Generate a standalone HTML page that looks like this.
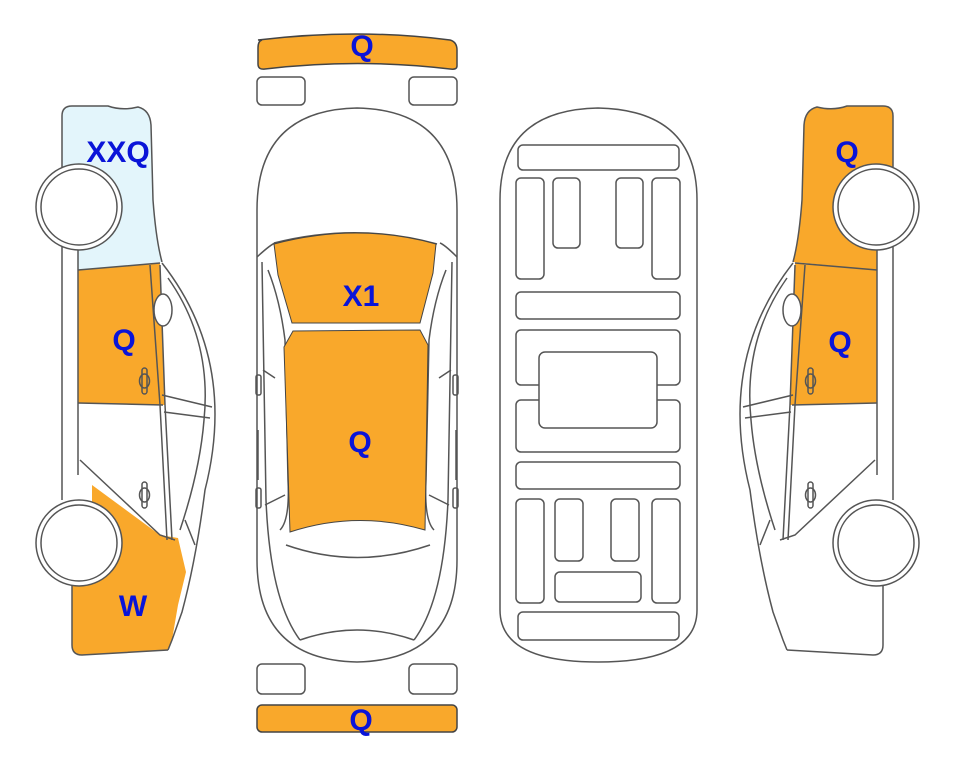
<!DOCTYPE html>
<html><head><meta charset="utf-8"><style>
html,body{margin:0;padding:0;background:#fff;}
svg{display:block;}
text{font-family:"Liberation Sans",Arial,sans-serif;font-weight:bold;fill:#0a14d8;font-size:30px;text-anchor:middle;}
</style></head><body>
<svg width="963" height="768" viewBox="0 0 963 768" xmlns="http://www.w3.org/2000/svg">
<defs>
<g id="outline" fill="none" stroke="#555" stroke-width="1.5">
  <path d="M62,116 Q62,106 72,106 L108,106 Q122,111 138,107 Q150,110 151,125 L153,200 Q156,240 162,262"/>
  <path d="M62,116 L62,500"/>
  <path d="M78,240 L78,475"/>
  <path d="M78,270 L160,263 M78,403 L163,405"/>
  <path d="M150,265 L160,405 L167,540"/>
  <path d="M160,265 L165,405 L172,540"/>
  <path d="M80,460 L160,535 L175,540"/>
  <path d="M162,263 Q238,360 205,490 Q196,560 182,612 L172,640 L168,650"/>
  <path d="M168,278 Q212,340 204,420 Q200,470 180,530"/>
  <path d="M162,395 L212,407 M164,412 L210,418"/>
  <path d="M185,520 L195,545"/>
  <path d="M72,585 L72,645 Q72,655 82,655 L168,650"/>
  <ellipse cx="163" cy="310" rx="9" ry="16" fill="#fff"/>
  <rect x="142" y="368" width="5" height="26" rx="2.5"/>
  <ellipse cx="144.5" cy="381" rx="5" ry="7"/>
  <rect x="142" y="482" width="5" height="26" rx="2.5"/>
  <ellipse cx="144.5" cy="495" rx="5" ry="7"/>
</g>
<g id="wheels" fill="#fff" stroke="#555" stroke-width="1.5">
  <circle cx="79" cy="207" r="43"/>
  <circle cx="79" cy="207" r="38"/>
  <circle cx="79" cy="543" r="43"/>
  <circle cx="79" cy="543" r="38"/>
</g>
</defs>

<!-- LEFT CAR -->
<path d="M62,116 Q62,106 72,106 L108,106 Q122,111 138,107 Q150,110 151,125 L153,200 Q156,240 162,262 L78,270 L78,240 L62,240 Z" fill="#e3f5fb"/>
<path d="M78,270 L160,263 L165,405 L78,403 Z" fill="#f9a82b"/>
<path d="M92,485 L160,535 L178,538 L186,572 L178,605 L172,640 L168,650 L82,655 Q72,655 72,645 L72,570 L92,560 Z" fill="#f9a82b"/>
<use href="#outline"/>
<use href="#wheels"/>
<text x="118" y="162">XXQ</text>
<text x="124" y="350">Q</text>
<text x="133" y="616">W</text>

<!-- RIGHT CAR (mirrored) -->
<g transform="translate(955,0) scale(-1,1)">
<path d="M62,116 Q62,106 72,106 L108,106 Q122,111 138,107 Q150,110 151,125 L153,200 Q156,240 162,262 L78,270 L78,240 L62,240 Z" fill="#f9a82b"/>
<path d="M78,270 L160,263 L165,405 L78,403 Z" fill="#f9a82b"/>
<use href="#outline"/>
<use href="#wheels"/>
</g>
<text x="847" y="162">Q</text>
<text x="840" y="352">Q</text>

<!-- TOP VIEW CAR -->
<g stroke="#555" stroke-width="1.5" fill="none">
  <path d="M258,40 Q358,28 450,40 Q457,42 457,50 L457,66 Q457,70 450,69 Q358,58 265,69 Q258,70 258,64 L258,48 Q258,41 262,40 Z" fill="#f9a82b" stroke="#444"/>
  <rect x="257" y="77" width="48" height="28" rx="5"/>
  <rect x="409" y="77" width="48" height="28" rx="5"/>
  <rect x="257" y="664" width="48" height="30" rx="5"/>
  <rect x="409" y="664" width="48" height="30" rx="5"/>
  <rect x="257" y="705" width="200" height="27" rx="5" fill="#f9a82b" stroke="#444"/>
  <path d="M257,210 Q257,110 357,108 Q457,110 457,210 L457,560 Q457,660 357,662 Q257,660 257,560 Z"/>
  <path d="M257,257 Q270,245 275,243 M457,257 Q445,245 440,243"/>
  <path d="M274,243 Q357,222 437,244"/>
  <path d="M262,262 L266,500 Q270,600 300,640 M452,262 L448,500 Q444,600 414,640"/>
  <path d="M268,270 Q280,300 285,340 L288,480 Q290,520 280,530 M446,270 Q434,300 429,340 L426,480 Q424,520 434,530"/>
  <path d="M263,370 L275,378 M451,370 L439,378 M265,505 L285,495 M449,505 L429,495"/>
  <path d="M258,430 L258,480 M456,430 L456,480"/>
  <path d="M286,545 Q357,570 430,545"/>
  <path d="M300,640 Q357,620 414,640"/>
  <rect x="256" y="375" width="5" height="20" rx="2"/>
  <rect x="453" y="375" width="5" height="20" rx="2"/>
  <rect x="256" y="488" width="5" height="20" rx="2"/>
  <rect x="453" y="488" width="5" height="20" rx="2"/>
</g>
<path d="M274,244 Q357,222 436,244 L433,273 L420,323 L292,323 L278,275 Z" fill="#f9a82b" stroke="#444" stroke-width="1"/>
<path d="M284,347 L293,331 L420,330 L428,345 L425,530 Q357,510 290,532 Z" fill="#f9a82b" stroke="#444" stroke-width="1"/>
<text x="362" y="56">Q</text>
<text x="361" y="306">X1</text>
<text x="360" y="452">Q</text>
<text x="361" y="730">Q</text>

<!-- CHASSIS -->
<g stroke="#555" stroke-width="1.5" fill="#fff">
  <path d="M500,200 Q500,110 598,108 Q697,110 697,200 L697,610 Q697,662 598,662 Q500,662 500,610 Z"/>
  <rect x="518" y="145" width="161" height="25" rx="5"/>
  <rect x="516" y="178" width="28" height="101" rx="5"/>
  <rect x="553" y="178" width="27" height="70" rx="5"/>
  <rect x="616" y="178" width="27" height="70" rx="5"/>
  <rect x="652" y="178" width="28" height="101" rx="5"/>
  <rect x="516" y="292" width="164" height="27" rx="5"/>
  <rect x="516" y="330" width="164" height="55" rx="5"/>
  <rect x="516" y="400" width="164" height="52" rx="5"/>
  <rect x="539" y="352" width="118" height="76" rx="6"/>
  <rect x="516" y="462" width="164" height="27" rx="5"/>
  <rect x="516" y="499" width="28" height="104" rx="5"/>
  <rect x="555" y="499" width="28" height="62" rx="5"/>
  <rect x="611" y="499" width="28" height="62" rx="5"/>
  <rect x="652" y="499" width="28" height="104" rx="5"/>
  <rect x="555" y="572" width="86" height="30" rx="5"/>
  <rect x="518" y="612" width="161" height="28" rx="5"/>
</g>
</svg>
</body></html>
